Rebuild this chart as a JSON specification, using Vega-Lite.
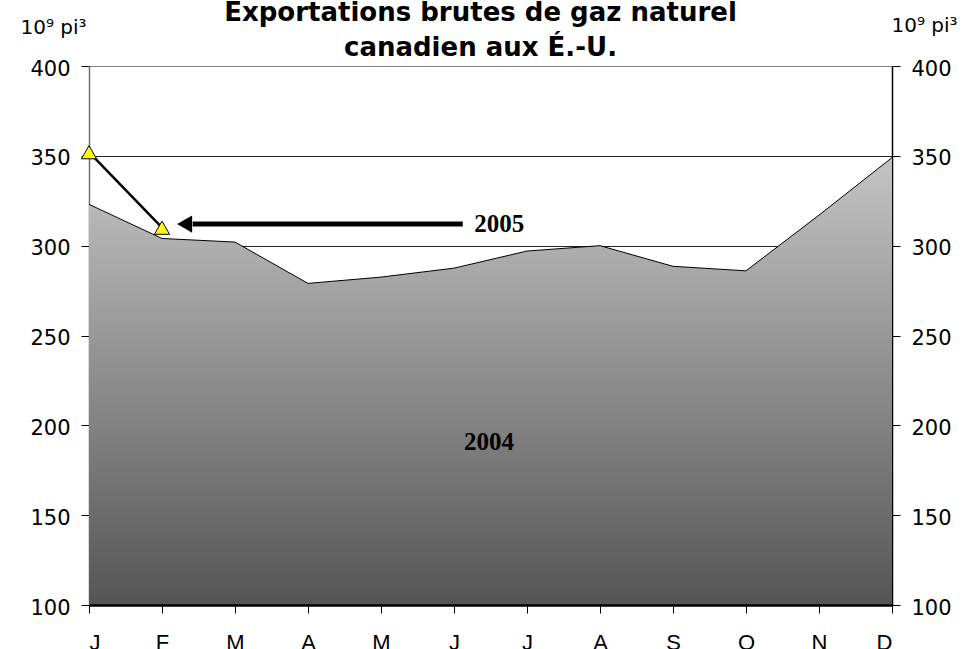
{
  "$schema": "https://vega.github.io/schema/vega-lite/v6.json",
  "autosize": {"type": "none"},
  "width": 803,
  "height": 539,
  "padding": {"left": 89, "top": 66, "right": 70, "bottom": 44},
  "background": "white",
  "title": {
    "text": ["Exportations brutes de gaz naturel", "canadien aux É.-U."],
    "font": "DejaVu Sans",
    "fontSize": 26,
    "fontWeight": "bold",
    "color": "black",
    "lineHeight": 35,
    "anchor": "middle",
    "baseline": "alphabetic",
    "offset": -67,
    "dx": -10
  },
  "config": {
    "view": {"stroke": null},
    "axis": {
      "labelFont": "DejaVu Sans",
      "labelFontSize": 21,
      "labelColor": "black",
      "titleFont": "DejaVu Sans",
      "titleFontSize": 20,
      "titleFontWeight": "normal",
      "titleColor": "black",
      "domainColor": "black",
      "tickColor": "black"
    }
  },
  "datasets": {
    "y2004": [
      {"m": 0, "v": 323}, {"m": 1, "v": 304}, {"m": 2, "v": 302}, {"m": 3, "v": 279},
      {"m": 4, "v": 282.5}, {"m": 5, "v": 287.5}, {"m": 6, "v": 297}, {"m": 7, "v": 300},
      {"m": 8, "v": 288.5}, {"m": 9, "v": 286}, {"m": 10, "v": 317}, {"m": 11, "v": 349}
    ],
    "y2005": [
      {"m": 0, "v": 352}, {"m": 1, "v": 310}
    ],
    "arrow": [{"x1": 1.42, "x2": 5.12, "y": 312, "hx": 1.31}],
    "labels": [
      {"m": 5.62, "v": 312, "t": "2005"},
      {"m": 5.48, "v": 191, "t": "2004"}
    ]
  },
  "layer": [
    {
      "data": {"name": "y2004"},
      "mark": {
        "type": "area",
        "opacity": 1,
        "color": {
          "gradient": "linear",
          "x1": 0, "y1": 0, "x2": 0, "y2": 1,
          "stops": [
            {"offset": 0, "color": "#c4c4c4"},
            {"offset": 1, "color": "#555555"}
          ]
        },
        "line": {"color": "black", "strokeWidth": 1}
      },
      "encoding": {
        "x": {
          "field": "m", "type": "quantitative",
          "scale": {"domain": [0, 11], "nice": false, "zero": false},
          "axis": {
            "values": [0, 1, 2, 3, 4, 5, 6, 7, 8, 9, 10, 11],
            "labelExpr": "['J','F','M','A','M','J','J','A','S','O','N','D'][datum.value]",
            "labelFont": "Liberation Sans",
            "labelFontSize": 22,
            "grid": false,
            "title": null,
            "tickSize": 8,
            "labelPadding": 19,
            "domainWidth": 2.5,
            "tickWidth": 1,
            "zindex": 1
          }
        },
        "y": {
          "field": "v", "type": "quantitative",
          "scale": {"domain": [100, 400], "nice": false, "zero": false},
          "axis": {
            "orient": "left",
            "values": [100, 150, 200, 250, 300, 350, 400],
            "grid": true,
            "gridColor": {"condition": {"test": "datum.value === 400", "value": "#808080"}, "value": "#222222"},
            "gridWidth": 1,
            "tickSize": 8,
            "labelPadding": 11,
            "labelOffset": 3,
            "domainWidth": 1.5,
            "domainColor": "#707070",
            "title": "10⁹ pi³",
            "titleAngle": 0,
            "titleAlign": "left",
            "titleBaseline": "middle",
            "titleX": -69,
            "titleY": -39
          }
        },
        "y2": {"datum": 100}
      }
    },
    {
      "data": {"name": "y2004"},
      "mark": {"type": "rule", "opacity": 0},
      "encoding": {
        "y": {
          "field": "v", "type": "quantitative",
          "axis": {
            "orient": "right",
            "values": [100, 150, 200, 250, 300, 350, 400],
            "grid": false,
            "tickSize": 8,
            "labelPadding": 11,
            "labelOffset": 3,
            "domainWidth": 1.5,
            "title": "10⁹ pi³",
            "titleAngle": 0,
            "titleAlign": "left",
            "titleBaseline": "middle",
            "titleX": -1,
            "titleY": -41
          }
        }
      }
    },
    {
      "data": {"name": "y2005"},
      "mark": {"type": "line", "color": "black", "strokeWidth": 2.5},
      "encoding": {
        "x": {"field": "m", "type": "quantitative"},
        "y": {"field": "v", "type": "quantitative", "axis": null}
      }
    },
    {
      "data": {"name": "y2005"},
      "mark": {"type": "point", "shape": "triangle-up", "filled": true, "fill": "#ffff00", "stroke": "black", "strokeWidth": 1, "size": 230, "opacity": 1},
      "encoding": {
        "x": {"field": "m", "type": "quantitative"},
        "y": {"field": "v", "type": "quantitative", "axis": null}
      }
    },
    {
      "data": {"name": "arrow"},
      "mark": {"type": "rule", "color": "black", "strokeWidth": 5},
      "encoding": {
        "x": {"field": "x1", "type": "quantitative"},
        "x2": {"field": "x2"},
        "y": {"field": "y", "type": "quantitative", "axis": null}
      }
    },
    {
      "data": {"name": "arrow"},
      "mark": {"type": "point", "shape": "triangle-left", "filled": true, "color": "black", "size": 300, "opacity": 1},
      "encoding": {
        "x": {"field": "hx", "type": "quantitative"},
        "y": {"field": "y", "type": "quantitative", "axis": null}
      }
    },
    {
      "data": {"name": "labels"},
      "mark": {"type": "text", "font": "Liberation Serif", "fontSize": 25, "fontWeight": "bold", "color": "black", "align": "center", "baseline": "middle"},
      "encoding": {
        "x": {"field": "m", "type": "quantitative"},
        "y": {"field": "v", "type": "quantitative", "axis": null},
        "text": {"field": "t"}
      }
    }
  ],
  "resolve": {"axis": {"y": "independent"}}
}
